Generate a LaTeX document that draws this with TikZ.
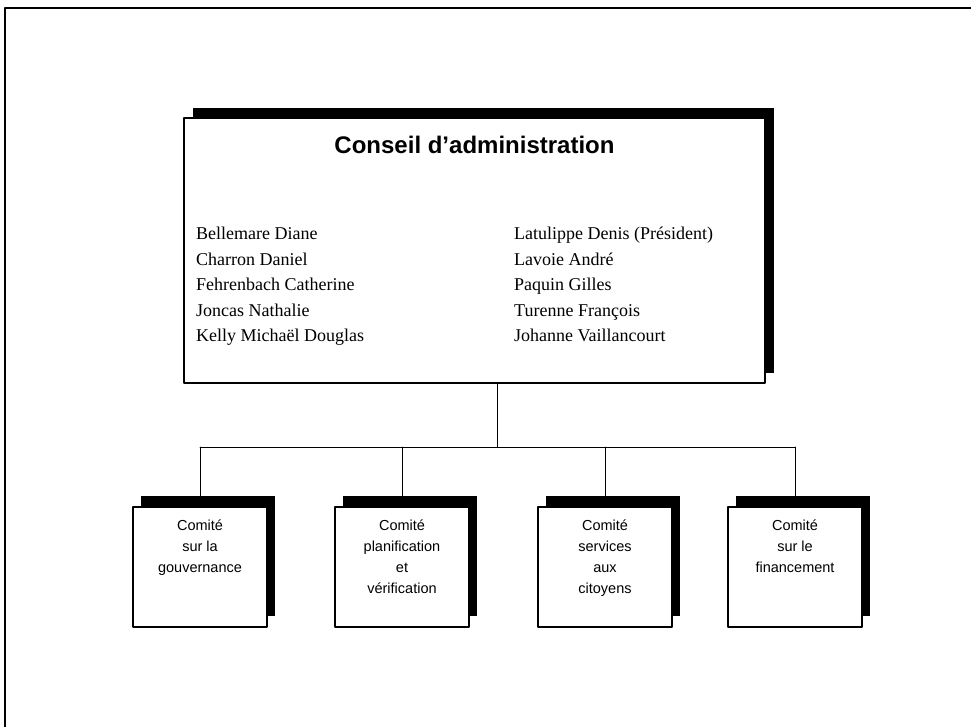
\documentclass[tikz,border=0pt]{standalone}
\usepackage{fontspec}
\setmainfont{Liberation Serif}
\newfontfamily\arialfont{Liberation Sans}
\usetikzlibrary{positioning,shadows}

\begin{document}
\begin{tikzpicture}[x=1pt, y=-1pt, line cap=round, line join=round,
    board/.style={draw, fill=white, line width=1.3pt, minimum width=581pt, minimum height=265pt,
      general shadow={fill=black, shadow xshift=9pt, shadow yshift=10pt}},
    committee/.style={draw, fill=white, line width=1.3pt, minimum width=134pt, minimum height=120pt,
      general shadow={fill=black, shadow xshift=8pt, shadow yshift=11pt}},
    committeetext/.style={font=\arialfont\fontsize{14.5}{21}\selectfont, align=center, inner sep=0pt, anchor=north},
    names/.style={font=\fontsize{18}{25.5}\selectfont, align=left, inner sep=0pt, anchor=north west},
    link/.style={line width=1pt}]

    \useasboundingbox (0,0) rectangle (971,727);

    % cadre de la page (haut et gauche seulement)
    \draw[line width=2.5pt] (5,727) -- (5,8) -- (971,8);

    % conseil d'administration
    \node[board] (council) at (474.5,250.5) {};
    \node[font=\arialfont\bfseries\fontsize{24}{28}\selectfont] (title) at (474.5,145) {Conseil d’administration};
    \node[names] (leftnames) at (196,227) {Bellemare Diane\\Charron Daniel\\Fehrenbach Catherine\\Joncas Nathalie\\Kelly Michaël Douglas};
    \node[names] (rightnames) at (514,227) {Latulippe Denis (Président)\\Lavoie André\\Paquin Gilles\\Turenne François\\Johanne Vaillancourt};

    % comités
    \node[committee] (gov) at (200,567) {};
    \node[committee] (plan) at (402,567) {};
    \node[committee] (serv) at (605,567) {};
    \node[committee] (fin) at (795,567) {};
    \node[committeetext, below=13pt of gov.north] (govtext) {Comité\\sur la\\gouvernance};
    \node[committeetext, below=13pt of plan.north] (plantext) {Comité\\planification\\et\\vérification};
    \node[committeetext, below=13pt of serv.north] (servtext) {Comité\\services\\aux\\citoyens};
    \node[committeetext, below=13pt of fin.north] (fintext) {Comité\\sur le\\financement};

    % liens
    \coordinate (bus) at (497,447);
    \draw[link] (council.south -| bus) -- (bus);
    \draw[link] (gov.north |- bus) -- (fin.north |- bus);
    \foreach \c in {gov,plan,serv,fin}
        \draw[link] (\c.north |- bus) -- (\c.north);
\end{tikzpicture}
\end{document}
